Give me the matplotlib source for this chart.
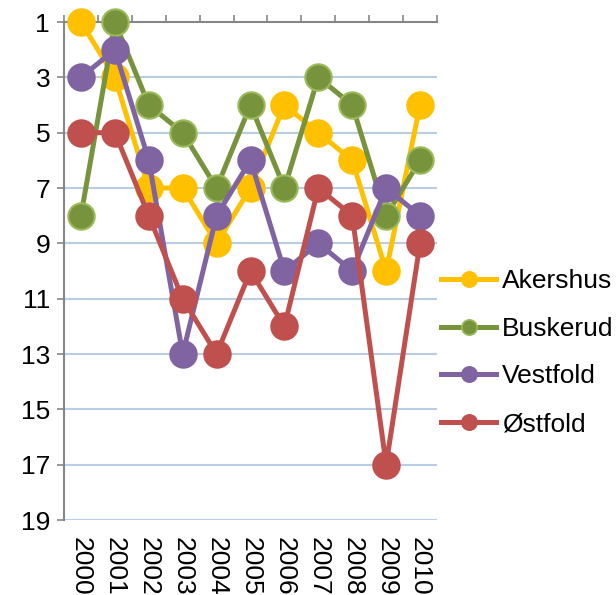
import numpy as np
import matplotlib.pyplot as plt
from matplotlib.lines import Line2D

plt.rcParams['font.family'] = ['Liberation Sans', 'DejaVu Sans']

years = ['2000', '2001', '2002', '2003', '2004', '2005', '2006', '2007', '2008', '2009', '2010']
akershus = [1, 3, 7, 7, 9, 7, 4, 5, 6, 10, 4]
buskerud = [8, 1, 4, 5, 7, 4, 7, 3, 4, 8, 6]
vestfold = [3, 2, 6, 13, 8, 6, 10, 9, 10, 7, 8]
ostfold = [5, 5, 8, 11, 13, 10, 12, 7, 8, 17, 9]

names = ['Akershus', 'Buskerud', 'Vestfold', 'Østfold']
series = [akershus, buskerud, vestfold, ostfold]
colors = ['#FFC000', '#77933C', '#8064A2', '#C0504D']
edges = ['#FFC000', '#9BBB59', '#8064A2', '#C0504D']

fig = plt.figure(figsize=(6.16, 5.95), dpi=100)
ax = fig.add_axes([64/616, 1-520/595, (437-64)/616, (520-22)/595])

x = np.arange(len(years))
for vals, c, e in zip(series, colors, edges):
    ax.plot(x, vals, color=c, lw=3.6, marker='o', ms=19,
            mfc=c, mec=e, mew=1.5, zorder=3, clip_on=False)

ax.set_xlim(-0.5, len(years) - 0.5)
ax.set_ylim(19, 1)
ax.set_yticks(np.arange(1, 20, 2))
ax.tick_params(axis='y', length=5, width=1.2, color='#868686', pad=5, labelsize=19)

# category labels below, tick marks on the top axis between categories
ax.set_xticks(x)
ax.set_xticklabels(years, rotation=-90, va='top', ha='center', fontsize=19)
ax.set_xticks(np.arange(-0.5, len(years)), minor=True)
ax.tick_params(axis='x', which='major', length=0, pad=12)
ax.tick_params(axis='x', which='minor', top=True, bottom=False, length=5,
               width=1.2, color='#868686', direction='out')

for yv in range(3, 20, 2):
    ax.axhline(yv, color='#B9CDE5', lw=1.5, zorder=1)

for s in ['right', 'bottom']:
    ax.spines[s].set_visible(False)
for s in ['left', 'top']:
    ax.spines[s].set_color('#868686')
    ax.spines[s].set_linewidth(1.5)

handles = [Line2D([], [], color=c, lw=3.6, marker='o', ms=11, mfc=c, mec=e, mew=1.2)
           for c, e in zip(colors, edges)]
fig.legend(handles, names, loc='upper left', bbox_to_anchor=(441/616, 1-269/595),
           frameon=False, fontsize=19, handlelength=2.1, handletextpad=0.2,
           labelspacing=0.9, borderpad=0, borderaxespad=0)

fig.savefig('out.png', dpi=100)
